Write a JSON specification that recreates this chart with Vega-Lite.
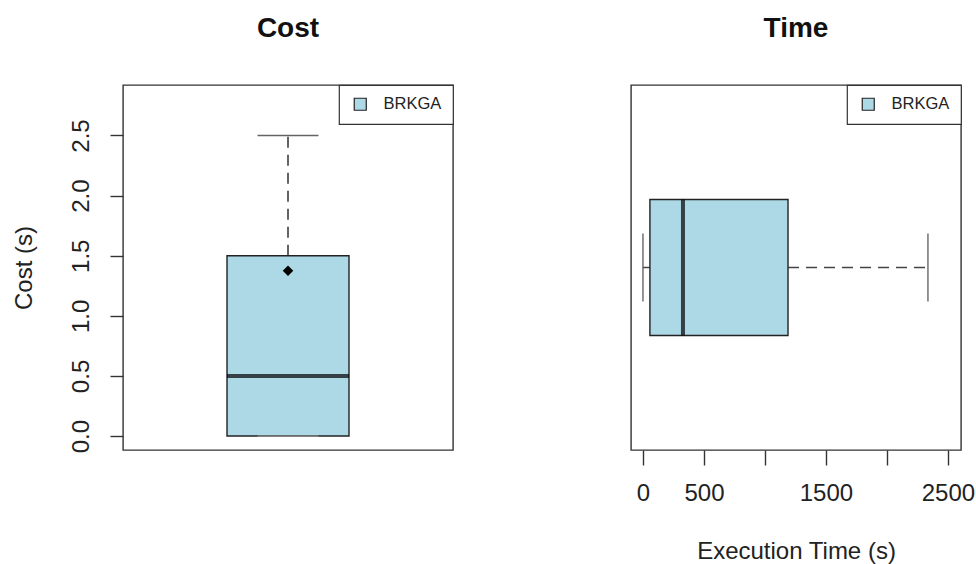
{
  "$schema": "https://vega.github.io/schema/vega-lite/v6.json",
  "padding": {"left": 11, "top": 14, "right": 0, "bottom": 0},
  "background": "white",
  "datasets": {
    "cost": [{"group": "BRKGA", "min": 0, "q1": 0, "median": 0.5, "q3": 1.5, "max": 2.5, "mean": 1.375}],
    "time": [{"group": "BRKGA", "min": 0, "q1": 57, "median": 328, "q3": 1189, "max": 2336}]
  },
  "config": {
    "font": "Liberation Sans",
    "view": {"stroke": "#333", "strokeWidth": 1.4},
    "axis": {"domain": false, "grid": false, "tickColor": "#333", "tickWidth": 1.4, "labelColor": "#222", "titleColor": "#222", "labelFontSize": 24, "titleFontSize": 24, "titleFontWeight": "normal", "labelFont": "Liberation Sans", "titleFont": "Liberation Sans"},
    "title": {"fontSize": 28, "fontWeight": "bold", "font": "Liberation Sans", "color": "#111", "anchor": "middle", "baseline": "alphabetic", "offset": 41},
    "legend": {"orient": "top-right", "offset": 0, "strokeColor": "#333", "strokeWidth": 1.2, "padding": 11, "symbolOffset": 2, "symbolType": "square", "symbolSize": 144, "symbolStrokeColor": "#222", "symbolStrokeWidth": 1.2, "labelFontSize": 16.5, "labelOffset": 15, "labelFont": "Liberation Sans", "labelColor": "#222", "fillColor": "white", "title": null}
  },
  "spacing": 175,
  "resolve": {"legend": {"fill": "independent"}, "scale": {"fill": "independent"}},
  "hconcat": [
    {
      "width": 330,
      "height": 365,
      "title": "Cost",
      "data": {"name": "cost"},
      "encoding": {
        "x": {"field": "group", "type": "nominal", "axis": null, "scale": {"type": "band", "domain": ["BRKGA"]}}
      },
      "layer": [
        {
          "mark": {"type": "rule", "color": "#222", "strokeWidth": 1.4, "strokeDash": [11, 7]},
          "encoding": {
            "y": {"field": "q3", "type": "quantitative", "scale": {"domain": [-0.116, 2.92], "nice": false, "zero": false},
              "axis": {"values": [0, 0.5, 1, 1.5, 2, 2.5], "format": ".1f", "labelAngle": -90, "labelAlign": "center", "labelBaseline": "alphabetic", "labelPadding": 22, "tickSize": 13, "title": "Cost (s)", "titleBaseline": "alphabetic", "titlePadding": 38}},
            "y2": {"field": "max"}
          }
        },
        {
          "mark": {"type": "tick", "color": "#222", "thickness": 1.4, "size": 61, "orient": "horizontal"},
          "encoding": {"y": {"field": "max", "type": "quantitative"}}
        },
        {
          "mark": {"type": "bar", "size": 122, "stroke": "#222", "strokeWidth": 1.4},
          "encoding": {
            "y": {"field": "q1", "type": "quantitative"},
            "y2": {"field": "q3"},
            "fill": {"field": "group", "type": "nominal", "scale": {"domain": ["BRKGA"], "range": ["#ADD8E6"]}, "legend": {}}
          }
        },
        {
          "mark": {"type": "tick", "color": "#aaa", "thickness": 1.2, "size": 61, "orient": "horizontal"},
          "encoding": {"y": {"field": "min", "type": "quantitative"}}
        },
        {
          "mark": {"type": "tick", "color": "black", "thickness": 4, "size": 122, "orient": "horizontal"},
          "encoding": {"y": {"field": "median", "type": "quantitative"}}
        },
        {
          "mark": {"type": "point", "shape": "diamond", "filled": true, "color": "black", "size": 110, "opacity": 1},
          "encoding": {"y": {"field": "mean", "type": "quantitative"}}
        }
      ]
    },
    {
      "width": 330,
      "height": 365,
      "title": "Time",
      "data": {"name": "time"},
      "encoding": {
        "y": {"field": "group", "type": "nominal", "axis": null, "scale": {"type": "band", "domain": ["BRKGA"]}}
      },
      "layer": [
        {
          "mark": {"type": "rule", "color": "#444", "strokeWidth": 1.5, "strokeDash": [11, 7]},
          "encoding": {
            "x": {"field": "q3", "type": "quantitative", "scale": {"domain": [-98, 2607], "nice": false, "zero": false},
              "axis": {"values": [0, 500, 1000, 1500, 2000, 2500], "labelExpr": "datum.value == 1000 || datum.value == 2000 ? '' : datum.label", "format": "d", "labelBaseline": "alphabetic", "labelPadding": 35, "tickSize": 15, "labelFlush": false, "labelOverlap": false, "title": "Execution Time (s)", "titleBaseline": "alphabetic", "titlePadding": 53}},
            "x2": {"field": "max"}
          }
        },
        {
          "mark": {"type": "rule", "color": "#444", "strokeWidth": 1.5},
          "encoding": {
            "x": {"field": "min", "type": "quantitative"},
            "x2": {"field": "q1"}
          }
        },
        {
          "mark": {"type": "tick", "color": "#555", "thickness": 1.8, "size": 68, "orient": "vertical"},
          "encoding": {"x": {"field": "max", "type": "quantitative"}}
        },
        {
          "mark": {"type": "tick", "color": "#555", "thickness": 1.8, "size": 68, "orient": "vertical"},
          "encoding": {"x": {"field": "min", "type": "quantitative"}}
        },
        {
          "mark": {"type": "bar", "size": 136, "stroke": "#222", "strokeWidth": 1.4},
          "encoding": {
            "x": {"field": "q1", "type": "quantitative"},
            "x2": {"field": "q3"},
            "fill": {"field": "group", "type": "nominal", "scale": {"domain": ["BRKGA"], "range": ["#ADD8E6"]}, "legend": {}}
          }
        },
        {
          "mark": {"type": "tick", "color": "black", "thickness": 4, "size": 136, "orient": "vertical"},
          "encoding": {"x": {"field": "median", "type": "quantitative"}}
        }
      ]
    }
  ]
}
